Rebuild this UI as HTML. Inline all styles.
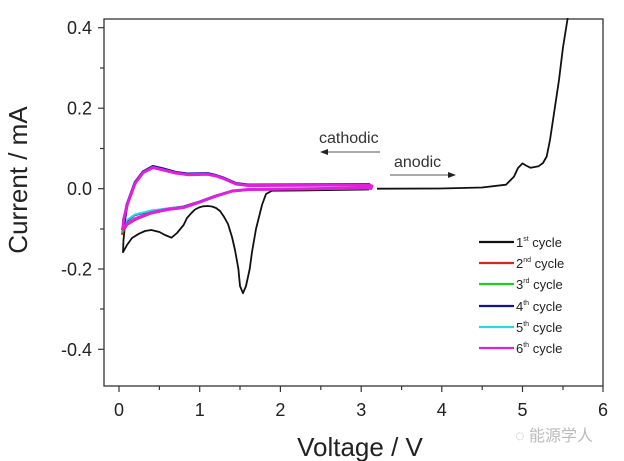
<!DOCTYPE html>
<html><head><meta charset="utf-8"><style>
html,body{margin:0;padding:0;background:#fff;}
svg{display:block;font-family:"Liberation Sans",Arial,sans-serif;}
</style></head><body>
<svg width="624" height="461" viewBox="0 0 624 461" xmlns="http://www.w3.org/2000/svg">
<rect width="624" height="461" fill="#fff"/>
<rect x="104" y="19" width="499" height="367" fill="none" stroke="#333" stroke-width="1.3"/>
<g stroke="#333" stroke-width="1.2">
<line x1="119" y1="386" x2="119" y2="392"/><line x1="159.4" y1="386" x2="159.4" y2="390"/>
<line x1="199.7" y1="386" x2="199.7" y2="392"/><line x1="240" y1="386" x2="240" y2="390"/>
<line x1="280.4" y1="386" x2="280.4" y2="392"/><line x1="320.8" y1="386" x2="320.8" y2="390"/>
<line x1="361.2" y1="386" x2="361.2" y2="392"/><line x1="401.6" y1="386" x2="401.6" y2="390"/>
<line x1="441.8" y1="386" x2="441.8" y2="392"/><line x1="482.2" y1="386" x2="482.2" y2="390"/>
<line x1="522.5" y1="386" x2="522.5" y2="392"/><line x1="563" y1="386" x2="563" y2="390"/>
<line x1="603" y1="386" x2="603" y2="392"/>
<line x1="98" y1="27.7" x2="104" y2="27.7"/><line x1="100" y1="68" x2="104" y2="68"/>
<line x1="98" y1="108.2" x2="104" y2="108.2"/><line x1="100" y1="148.5" x2="104" y2="148.5"/>
<line x1="98" y1="188.7" x2="104" y2="188.7"/><line x1="100" y1="229" x2="104" y2="229"/>
<line x1="98" y1="269" x2="104" y2="269"/><line x1="100" y1="309" x2="104" y2="309"/>
<line x1="98" y1="349.3" x2="104" y2="349.3"/>
</g>
<g font-size="18" fill="#222" text-anchor="end">
<text x="92" y="34">0.4</text><text x="92" y="114.5">0.2</text><text x="92" y="195">0.0</text>
<text x="92" y="275.5">-0.2</text><text x="92" y="356">-0.4</text>
</g>
<g font-size="18" fill="#222" text-anchor="middle">
<text x="119" y="416">0</text><text x="199.7" y="416">1</text><text x="280.4" y="416">2</text>
<text x="361.2" y="416">3</text><text x="441.8" y="416">4</text><text x="522.5" y="416">5</text><text x="603" y="416">6</text>
</g>
<text x="360" y="456" font-size="26" fill="#222" text-anchor="middle">Voltage / V</text>
<text transform="translate(27,180) rotate(-90)" font-size="26" fill="#222" text-anchor="middle">Current / mA</text>
<text x="319" y="143" font-size="16" fill="#333">cathodic</text>
<line x1="380" y1="152" x2="326" y2="152" stroke="#555" stroke-width="1"/>
<polygon points="320,152 328,149 328,155" fill="#222"/>
<text x="394" y="167" font-size="16" fill="#333">anodic</text>
<line x1="390" y1="175" x2="450" y2="175" stroke="#555" stroke-width="1"/>
<polygon points="456,175 448,172 448,178" fill="#222"/>
<polyline fill="none" stroke="#111" stroke-width="1.8" stroke-linejoin="round" points="377,188.7 440,188.5 482,187.5 506,184.7 514,176.6 518,168 522.5,163.4 526,165.5 530.6,167.8 538.6,166.2 543,163 546.7,156.5 550,140 554.8,108 559,80 562.9,48 567.7,18"/>
<polyline fill="none" stroke="#111" stroke-width="1.8" stroke-linejoin="round" points="369,189.5 300,190.5 272,190.7 266,194 262,205 256,229 252,252 249.7,269 246,286 243,293.2 240,286 238.4,269 235,250 232,237 228,224 224,216.8 220,211 216,208 212,206.5 207.8,206 203,206.3 199,207.5 195,209.5 191.6,212.8 187,218 183.6,225 177,233 171.5,237.7 165,235 159.4,232 151.3,230 145,231 139,233.7 132,238 127,245 123,252.2 123.5,240 124.6,229"/>
<g fill="none" stroke-linejoin="round" stroke-linecap="round">
<polyline stroke="#d22" stroke-width="2" points="369,188.5 248,190 232,191.5 216,196.5 199.7,202.5 183.6,208 167.4,210 151.3,213.5 135,220 127,225 122,234"/>
<polyline stroke="#2c2" stroke-width="2" points="369,188.3 248,189.7 232,191 216,196 199.7,202 183.6,207.8 167.4,209.8 151.3,213 135,219 127,224 122,232"/>
<polyline stroke="#119" stroke-width="2" points="122,229 127,221 135,215 151.3,211 167.4,208.5 183.6,206.5 199.7,201.5 216,195.5 232,191 248,189.5 369,188"/>
<polyline stroke="#2dd" stroke-width="2" points="122,228 127,220 135,214.5 151.3,210.5 167.4,208.5 183.6,206.8"/>
<polyline stroke="#119" stroke-width="3" points="123,229 127,204.8 135,182.7 143.2,171.8 153,166.5 163.4,169 175.5,172.3 187.6,174 207.8,173.6 216,175.5 224,178.2 236,183.5 248,185 369,184.5"/>
<polyline stroke="#d2d" stroke-width="3" points="369,188 248,189.5 232,191 216,196 199.7,202 183.6,207.4 167.4,209.4 151.3,212.6 135,218.8 127,224 123,229 123.5,220 127,205.5 135,183.5 143.2,172.5 153,167.5 163.4,170 175.5,173 187.6,174.7 207.8,174.3 216,176 224,178.7 236,184 248,185.5 369,185 372,186 371,188.5 369,188"/>
</g>
<g stroke-width="2.2">
<line x1="479" y1="242" x2="514" y2="242" stroke="#111"/>
<line x1="479" y1="263" x2="514" y2="263" stroke="#d22"/>
<line x1="479" y1="284" x2="514" y2="284" stroke="#2c2"/>
<line x1="479" y1="306" x2="514" y2="306" stroke="#119"/>
<line x1="479" y1="327" x2="514" y2="327" stroke="#2dd"/>
<line x1="479" y1="348" x2="514" y2="348" stroke="#d2d"/>
</g>
<g font-size="13" fill="#222">
<text x="516" y="247">1<tspan font-size="7" dy="-6">st</tspan><tspan dy="6"> cycle</tspan></text>
<text x="516" y="268">2<tspan font-size="7" dy="-6">nd</tspan><tspan dy="6"> cycle</tspan></text>
<text x="516" y="289">3<tspan font-size="7" dy="-6">rd</tspan><tspan dy="6"> cycle</tspan></text>
<text x="516" y="311">4<tspan font-size="7" dy="-6">th</tspan><tspan dy="6"> cycle</tspan></text>
<text x="516" y="332">5<tspan font-size="7" dy="-6">th</tspan><tspan dy="6"> cycle</tspan></text>
<text x="516" y="353">6<tspan font-size="7" dy="-6">th</tspan><tspan dy="6"> cycle</tspan></text>
</g>
<text x="515" y="441" font-size="16" fill="#bbb">◌ <tspan font-family="'Noto Sans CJK SC',sans-serif">能源学人</tspan></text>
</svg>
</body></html>
